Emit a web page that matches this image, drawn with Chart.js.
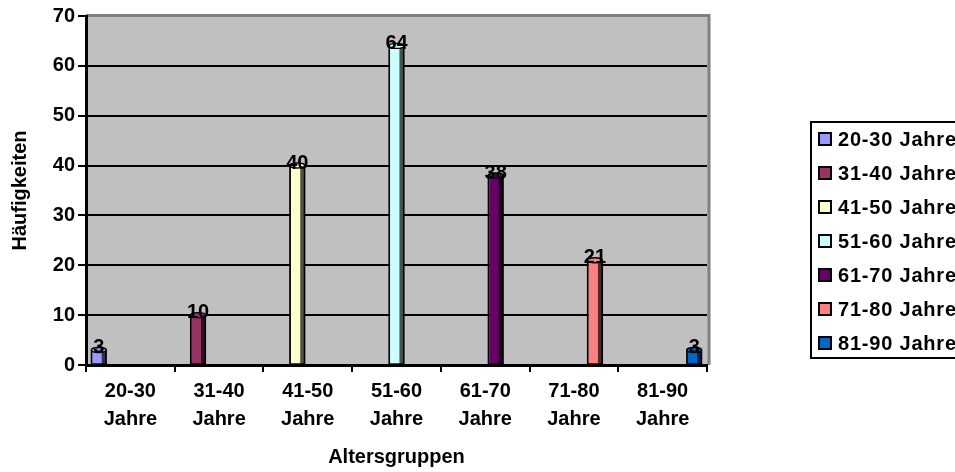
<!DOCTYPE html>
<html>
<head>
<meta charset="utf-8">
<script src="https://cdn.jsdelivr.net/npm/chart.js@4"></script>
<style>
  html, body { margin: 0; padding: 0; background: #fff; overflow: hidden; }
  #wrap { width: 955px; height: 472px; position: relative; }
</style>
</head>
<body>
<div id="wrap"><canvas id="c" width="955" height="472"></canvas></div>
<script>
// Age groups (one series per group, as in the legend)
const categories = ['20-30 Jahre', '31-40 Jahre', '41-50 Jahre', '51-60 Jahre', '61-70 Jahre', '71-80 Jahre', '81-90 Jahre'];
const tickLabels = [['20-30', 'Jahre'], ['31-40', 'Jahre'], ['41-50', 'Jahre'], ['51-60', 'Jahre'], ['61-70', 'Jahre'], ['71-80', 'Jahre'], ['81-90', 'Jahre']];
const counts = [3, 10, 40, 64, 38, 21, 3];
const seriesColors = ['#9999FF', '#993366', '#FFFFCC', '#CCFFFF', '#660066', '#FF8080', '#0066CC'];
const yMax = 70;
const yStep = 10;

const FONT = '"Liberation Sans", Arial, sans-serif';

// Each series only carries a value in its own age group
const datasets = categories.map((name, i) => ({
  label: name,
  data: counts.map((v, j) => (j === i ? v : null)),
  backgroundColor: seriesColors[i],
  borderColor: '#000',
  borderWidth: 1
}));

// Gray plot wall with a darker top/right rim
const wallPlugin = {
  id: 'wall',
  beforeDraw(chart) {
    const { ctx, chartArea: a } = chart;
    ctx.save();
    ctx.fillStyle = '#C0C0C0';
    ctx.fillRect(a.left, a.top - 1, a.right - a.left + 3, a.bottom - a.top + 1);
    ctx.strokeStyle = '#808080';
    ctx.lineWidth = 3;
    ctx.beginPath();
    ctx.moveTo(a.left, a.top - 0.5);
    ctx.lineTo(a.right + 2, a.top - 0.5);
    ctx.lineTo(a.right + 2, a.bottom);
    ctx.stroke();
    ctx.restore();
  }
};

// Cylinder shading: dark right side and an elliptical cap
const cylinderPlugin = {
  id: 'cylinder',
  afterDatasetsDraw(chart) {
    const { ctx } = chart;
    ctx.save();
    chart.data.datasets.forEach((ds, di) => {
      const meta = chart.getDatasetMeta(di);
      meta.data.forEach((el, idx) => {
        const v = ds.data[idx];
        if (v === null || v === undefined) return;
        const w = el.width;
        const left = el.x - w / 2;
        const right = el.x + w / 2;
        const top = el.y;
        const bottom = el.base;
        ctx.fillStyle = 'rgba(0,0,0,0.68)';
        ctx.fillRect(el.x + w * 0.2, top, right - (el.x + w * 0.2), bottom - top);
        ctx.strokeStyle = '#000';
        ctx.lineWidth = 1.4;
        ctx.strokeRect(left, top, w, bottom - top);
        ctx.beginPath();
        ctx.ellipse(el.x, top, w / 2, 2.5, 0, 0, Math.PI * 2);
        ctx.fillStyle = ds.backgroundColor;
        ctx.fill();
        ctx.stroke();
      });
    });
    ctx.restore();
  }
};

// Value labels on the bar tops
const valueLabels = {
  id: 'valueLabels',
  afterDatasetsDraw(chart) {
    const { ctx } = chart;
    ctx.save();
    ctx.font = 'bold 20px ' + FONT;
    ctx.fillStyle = '#000';
    ctx.textAlign = 'center';
    ctx.textBaseline = 'middle';
    chart.data.datasets.forEach((ds, di) => {
      const meta = chart.getDatasetMeta(di);
      meta.data.forEach((el, idx) => {
        const v = ds.data[idx];
        if (v === null || v === undefined) return;
        ctx.fillText(String(v), el.x, el.y - 2.5);
      });
    });
    ctx.restore();
  }
};

// Boxed legend on the right
const boxLegend = {
  id: 'boxLegend',
  afterDraw(chart) {
    const { ctx } = chart;
    const a = chart.chartArea;
    const bx = a.right + 104, by = 122, bw = 200, bh = 236;
    ctx.save();
    ctx.strokeStyle = '#000';
    ctx.lineWidth = 2;
    ctx.strokeRect(bx, by, bw, bh);
    ctx.font = 'bold 20px ' + FONT;
    ctx.textAlign = 'left';
    ctx.textBaseline = 'middle';
    if ('letterSpacing' in ctx) ctx.letterSpacing = '0.8px';
    chart.data.datasets.forEach((ds, i) => {
      const cy = 139 + i * 34;
      ctx.fillStyle = ds.backgroundColor;
      ctx.fillRect(bx + 8, cy - 6, 12, 12);
      ctx.lineWidth = 2;
      ctx.strokeStyle = '#000';
      ctx.strokeRect(bx + 8, cy - 6, 12, 12);
      ctx.fillStyle = '#000';
      ctx.fillText(ds.label, bx + 27, cy + 1);
    });
    ctx.restore();
  }
};

new Chart(document.getElementById('c'), {
  type: 'bar',
  data: { labels: tickLabels, datasets },
  plugins: [wallPlugin, cylinderPlugin, valueLabels, boxLegend],
  options: {
    responsive: false,
    animation: false,
    layout: { padding: { top: 16, right: 248, bottom: 0, left: 0 } },
    datasets: { bar: { categoryPercentage: 0.83, barPercentage: 1.4 } },
    plugins: { legend: { display: false }, tooltip: { enabled: false } },
    scales: {
      x: {
        grid: {
          offset: true,
          drawOnChartArea: false,
          drawTicks: true,
          tickLength: 7,
          color: '#000',
          lineWidth: 2
        },
        border: { display: true, color: '#000', width: 3 },
        ticks: {
          color: '#000',
          padding: 5,
          maxRotation: 0,
          autoSkip: false,
          font: { family: FONT, size: 20, weight: 'bold', lineHeight: 1.4 }
        },
        title: {
          display: true,
          text: 'Altersgruppen',
          color: '#000',
          padding: { top: 0, bottom: 3 },
          font: { family: FONT, size: 20, weight: 'bold', lineHeight: 1.2 }
        },
        afterFit(scale) { scale.height = 107; }
      },
      y: {
        min: 0,
        max: yMax,
        ticks: {
          stepSize: yStep,
          color: '#000',
          padding: 3,
          font: { family: FONT, size: 20, weight: 'bold' }
        },
        grid: {
          color: (c) => (c.tick && c.tick.value === yMax ? 'rgba(0,0,0,0)' : '#000'),
          tickColor: '#000',
          lineWidth: 2,
          tickLength: 8
        },
        border: { display: true, color: '#000', width: 3 },
        title: {
          display: true,
          text: 'Häufigkeiten',
          color: '#000',
          padding: { top: 8, bottom: 0 },
          font: { family: FONT, size: 20, weight: 'bold', lineHeight: 1.2 }
        },
        afterFit(scale) { scale.width = 86; }
      }
    }
  }
});
</script>
</body>
</html>
